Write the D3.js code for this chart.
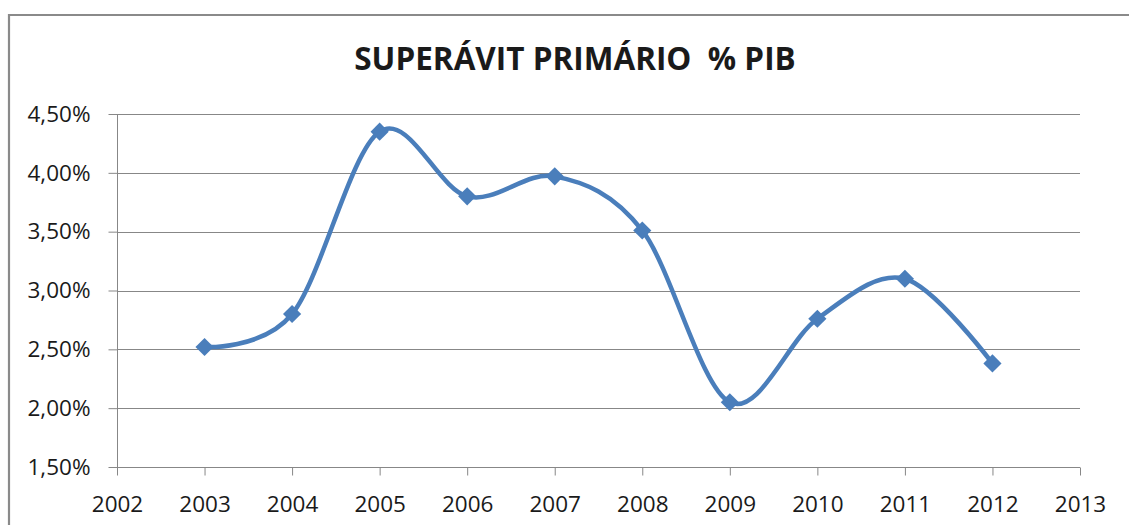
<!DOCTYPE html>
<html>
<head>
<meta charset="utf-8">
<script src="https://cdn.jsdelivr.net/npm/d3@7"></script>
<style>
  body { margin: 0; background: #fff; }
  text { font-family: "Open Sans", sans-serif; fill: #1a1a1a; }
</style>
</head>
<body>
<svg id="chart" width="1129" height="525"></svg>
<script>
const title = 'SUPERÁVIT PRIMÁRIO  % PIB'
const years = [2003, 2004, 2005, 2006, 2007, 2008, 2009, 2010, 2011, 2012]
const superavit = [2.52, 2.80, 4.35, 3.80, 3.97, 3.51, 2.05, 2.76, 3.10, 2.38]
const yTicks = [1.5, 2.0, 2.5, 3.0, 3.5, 4.0, 4.5]
const xTicks = [2002, 2003, 2004, 2005, 2006, 2007, 2008, 2009, 2010, 2011, 2012, 2013]

const svg = d3.select('#chart')
const plotL = 117, plotR = 1080, plotT = 114, plotB = 467
const gridColor = '#878787'
const lineColor = '#4a7ebb'

const x = d3.scaleLinear().domain([2002, 2013]).range([plotL, plotR])
const y = d3.scaleLinear().domain([1.5, 4.5]).range([plotB, plotT])

// outer chart frame (right/bottom edges fall outside the picture)
svg.append('path')
   .attr('d', `M9,525 V15 H1129`)
   .attr('fill', 'none')
   .attr('stroke', '#8a8a8a')
   .attr('stroke-width', 2.2)

svg.append('text')
   .attr('x', 575).attr('y', 70)
   .attr('text-anchor', 'middle')
   .style('font-size', '31.5px')
   .style('font-weight', 'bold')
   .style('white-space', 'pre')
   .text(title)

// horizontal gridlines
svg.append('g').selectAll('line').data(yTicks.slice(1)).join('line')
   .attr('x1', plotL).attr('x2', plotR)
   .attr('y1', d => Math.round(y(d)) + 0.5).attr('y2', d => Math.round(y(d)) + 0.5)
   .attr('stroke', gridColor).attr('stroke-width', 1)

const fmt = d => d3.format('.2f')(d).replace('.', ',') + '%'

const yAxis = svg.append('g')
   .attr('transform', `translate(${plotL + 0.5},0)`)
   .call(d3.axisLeft(y).tickValues(yTicks).tickFormat(fmt).tickSize(9).tickPadding(18))
const xAxis = svg.append('g')
   .attr('transform', `translate(0,${plotB + 0.5})`)
   .call(d3.axisBottom(x).tickValues(xTicks).tickFormat(d3.format('d')).tickSize(8).tickPadding(21))

;[yAxis, xAxis].forEach(ax => {
  ax.select('.domain').attr('stroke', gridColor)
  ax.selectAll('.tick line').attr('stroke', gridColor)
  ax.selectAll('.tick text')
    .style('font-family', '"Open Sans", sans-serif')
    .style('font-size', '22.5px')
    .attr('fill', '#1a1a1a')
})
// keep the axis lines flush, without outer ticks
yAxis.select('.domain').attr('d', `M0,${plotT}V${plotB}`)
xAxis.select('.domain').attr('d', `M${plotL},0H${plotR}`)

const pts = years.map((yr, i) => ({yr, v: superavit[i]}))

const line = d3.line()
   .x(d => x(d.yr)).y(d => y(d.v))
   .curve(d3.curveCardinal.tension(0))

svg.append('path')
   .datum(pts)
   .attr('d', line)
   .attr('fill', 'none')
   .attr('stroke', lineColor)
   .attr('stroke-width', 4.5)
   .attr('stroke-linejoin', 'round')

const diamond = d3.symbol().type(d3.symbolSquare).size(165)
svg.append('g').selectAll('path').data(pts).join('path')
   .attr('d', diamond)
   .attr('transform', d => `translate(${x(d.yr)},${y(d.v)}) rotate(45)`)
   .attr('fill', lineColor)
</script>
</body>
</html>
